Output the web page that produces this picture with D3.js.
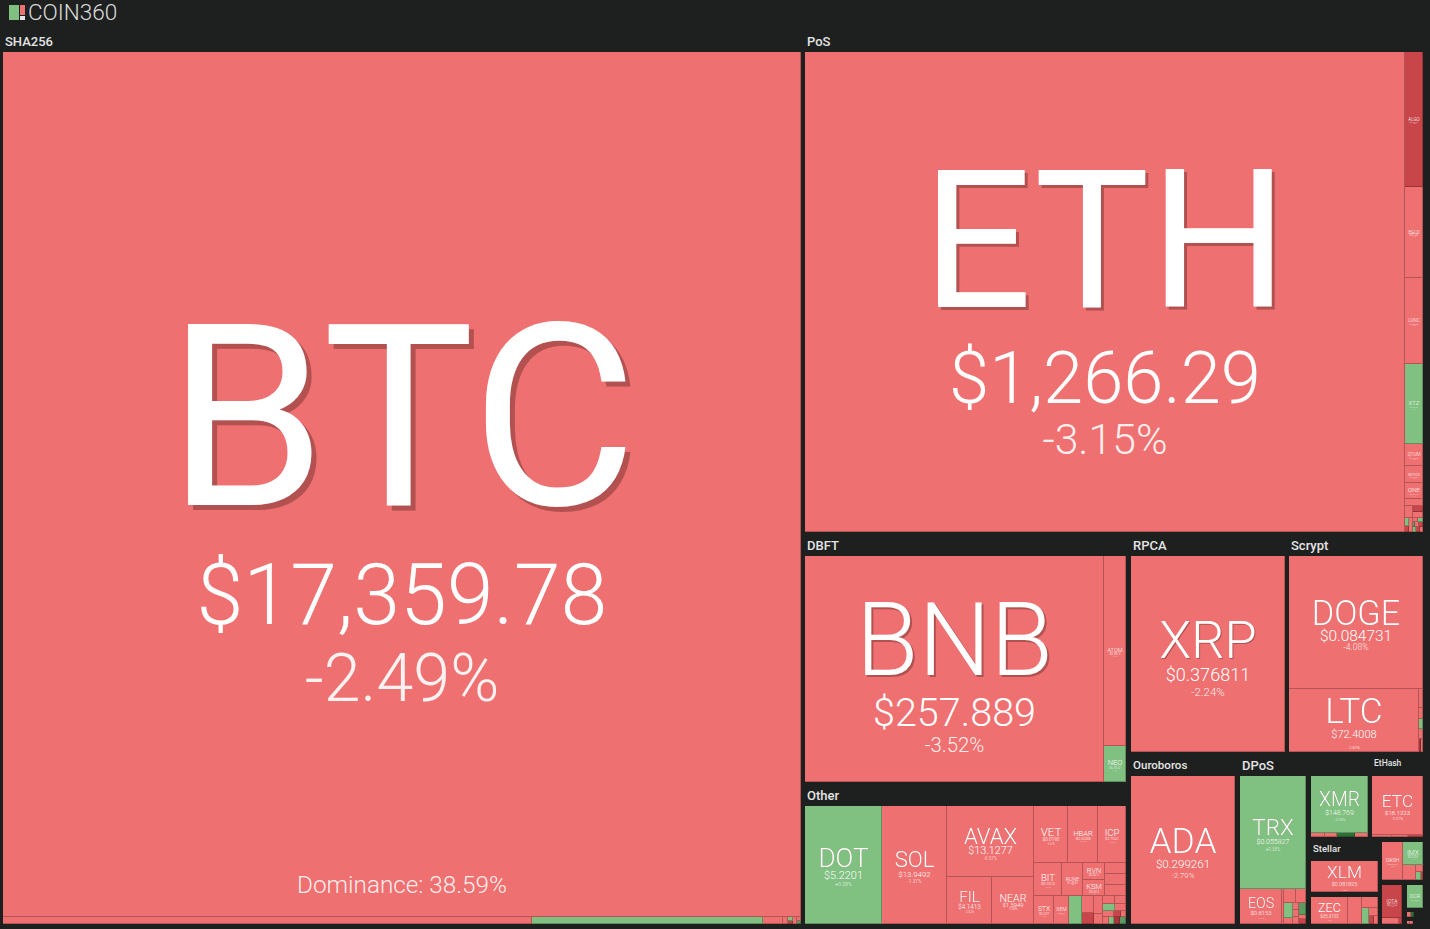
<!DOCTYPE html>
<html><head><meta charset="utf-8">
<script src="https://cdn.jsdelivr.net/npm/d3@7"></script>
<style>html,body{margin:0;background:#1e2020;overflow:hidden}svg{display:block}text{font-family:Roboto,sans-serif}</style>
</head><body><svg id="c" width="1430" height="929"></svg>
<script>
// Named coins: size (relative cap), price, 24h change
const symbols=["BTC","ETH","ALGO","EGLD","LUNC","XTZ","QTUM","WAVES","ONE","BNB","ATOM","NEO","DOT","SOL","AVAX","FIL","NEAR","VET","HBAR","ICP","BIT","RUNE","RVN","KSM","STX","XEM","XRP","DOGE","LTC","ADA","TRX","EOS","XMR","ETC","XLM","ZEC","DASH","IMX","IOTA","DCR"];
const caps=[689400,287700,2440,1640,1550,1445,398,307,289,67300,4180,792,9086,7670,6106,2068,1974,1950,1680,1620,940,680,380,358,575,410,30030,17688,8190,15392,7458,1470,3249,3009,2077,999,798,460,660,368];
const prices=["17,359.78","1,266.29","0.2237","41.27","0.000186","0.9517","2.1503","1.5521","0.0147","257.889","9.3912","6.4312","5.2201","13.9492","13.1277","4.1413","1.5949","0.0190","0.0398","3.7021","0.3012","1.2044","0.0211","23.812","0.2107","0.0273","0.376811","0.084731","72.4008","0.299261","0.055827","0.8153","148.769","18.1223","0.081825","35.3102","38.1204","0.3104","0.1712","15.5120"];
const changes=[-2.49,-3.15,-7.82,-3.41,-3.02,1.12,-3.55,-2.91,-3.67,-3.52,-3.11,0.42,0.28,-1.37,-0.57,-2.92,-0.58,-2.64,-1.83,-2.21,-3.04,-2.38,-2.77,-3.12,-1.96,-2.43,-2.24,-4.08,-3.84,-2.79,0.33,-3.31,0.09,-0.57,-1.88,-2.03,-3.22,1.41,-6.33,0.84];
// Coins too small to carry a readable label
const minorIds=["s1","s2","s3","s4","s5","s6","s7","s8","s9","s10","p1","p2","p3","p4","p5","p6","p7","p8","p9","p10","p11","p12","p13","p14","p15","p16","o1","o2","o3","o4","o5","o6","o7","o8","o9","o10","o11","o12","o13","o14","o15","o16","o17","o18","o19","o20","l1","l2","l3","l4","l5","l6","d1","d2","d3","d4","d5","d6","d7","d8","d9","d10","d11","d12","d13","x1","x2","x3","x4","e1","e2","e3","z1","z2","z3","z4","z5","z6","a1","a2","a3","a4","a5","i1","i2","t1","t2","t3","t4"];
const minorCaps=[3703,1617,140,35,28,20,15,16,12,126,91,63,63,30,23,53,23,19,14,19,19,19,19,14,15,15,225,225,225,380,204,132,162,90,96,88,84,77,66,42,30,42,35,42,42,16,76,44,40,40,26,26,70,168,140,135,54,42,42,42,84,28,35,16,16,56,48,72,52,40,32,30,378,176,112,72,40,32,195,49,40,16,16,102,18,20,15,9,9];
const minorChanges=[-3.1,1.6,-2.2,-2.8,-3.3,2.4,-9.2,-2.9,7.5,-2.6,-3.4,-8.1,-4.4,2.7,-7.6,-3.0,-2.5,1.8,6.2,-3.9,-7.0,2.2,-8.4,-3.0,3.1,-2.7,-3.3,-2.9,-2.4,1.4,-3.6,-8.6,-2.8,-2.5,-3.0,-2.7,1.7,-2.2,-3.1,-7.4,-2.6,-3.3,2.3,-12.5,6.8,-9.0,-2.9,-3.2,1.5,-2.8,-11.0,-3.4,-2.7,-3.2,-2.5,1.9,-3.0,-2.6,-3.4,-2.9,6.1,-3.1,-7.7,-2.4,-3.3,-3.0,-2.8,12.4,-3.5,-2.7,-3.1,-9.5,-2.9,-2.6,1.3,-3.0,-8.8,-2.5,-3.4,-2.8,1.6,-9.1,-2.3,-3.0,-8.2,-3.1,11.6,-3.2,-2.7];
// Branch order of the tree: direction of the cut and its children
const splits=[
["root","h","SHA256 right"],
["SHA256","v","BTC shaStrip"],
["shaStrip","h","s1 s2 s3 s4 shaCol1 s5 shaCol2"],
["shaCol1","v","s6 s7"],["shaCol2","v","s8 s9"],
["right","v","PoS lower"],
["PoS","h","ETH posCol"],
["posCol","v","ALGO EGLD LUNC XTZ QTUM WAVES ONE s10 posTail"],
["posTail","v","posR1 posR2"],
["posR1","h","p1 posB"],["posB","v","p2 p3"],
["posR2","h","posC1 p6 posC3"],["posC1","v","p4 p5"],
["posC3","v","posD1 posD2 posD3"],["posD1","h","p7 p8"],["posD2","h","p9 p10 p11"],["posD3","h","p12 p13 p14"],
["lower","h","lowerLeft lowerRight"],
["lowerLeft","v","DBFT Other"],
["DBFT","h","BNB dbftCol"],["dbftCol","v","ATOM NEO"],
["Other","h","DOT SOL otherA otherB"],
["otherA","v","AVAX otherA2"],["otherA2","h","FIL NEAR"],
["otherB","v","obR1 obR2 obR3"],
["obR1","h","VET HBAR ICP"],
["obR2","h","BIT RUNE obK obC"],["obK","v","RVN KSM"],["obC","v","o1 o2 o3"],
["obR3","h","STX XEM o4 ob3a ob3b ob3c"],["ob3a","v","o5 o6"],["ob3b","v","o7 o8"],
["ob3c","v","ob3r1 ob3r2 ob3r3 ob3r4"],["ob3r1","h","o9 o10"],["ob3r2","h","o11 o12"],["ob3r3","h","o13 o14 o15"],["ob3r4","h","o16 o17 o18 o19"],
["lowerRight","v","lrTop lrBot"],
["lrTop","h","RPCA Scrypt"],["RPCA","v","XRP"],
["Scrypt","v","DOGE ltcRow"],["ltcRow","h","LTC ltcCol"],["ltcCol","v","l1 l2 l3 l4 ltcTail"],["ltcTail","h","l5 l6"],
["lrBot","h","Ouroboros DPoS rest"],["Ouroboros","v","ADA"],
["DPoS","v","TRX dRow"],["dRow","h","EOS d1 dRight"],
["dRight","v","dTop dBot"],["dTop","h","d2 d3"],["dBot","h","dB1 dB2 dB3"],["dB1","v","d4 d5"],["dB2","v","d6 d7 d8"],["dB3","v","d9 d10 d11"],
["rest","v","restTop restBot"],["restTop","h","RandomX EtHash"],
["RandomX","v","XMR xStrip"],["xStrip","h","x1 x2 x3 x4"],
["EtHash","v","ETC eStrip"],["eStrip","h","e1 e2 e3"],
["restBot","h","restA restB"],["restA","v","Stellar zecGroup"],["Stellar","v","XLM"],
["zecGroup","h","ZEC z1 zCol"],["zCol","v","z2 zBot"],["zBot","h","z3 zBc"],["zBc","v","z4 zBd"],["zBd","h","z5 z6"],
["restB","v","dashGroup lastRow"],
["dashGroup","h","DASH dashCol"],["dashCol","v","IMX dashRow"],["dashRow","h","a1 dashC"],["dashC","v","a2 dashCr"],["dashCr","h","a3 a4"],
["lastRow","h","iotaGroup dcrCol"],
["iotaGroup","v","IOTA iStrip"],["iStrip","h","i1 i2"],
["dcrCol","v","dcrGroup tiny1 tiny2"],["dcrGroup","v","DCR"],
["tiny1","h","t1 t2"],["tiny2","h","t3 t4"]
];
// Band above a family and gap to its right neighbour
const groupPad=new Map([["SHA256",[24,4]],["PoS",[24,4]],["DBFT",[24,5]],["Other",[24,5]],["RPCA",[24,4]],["Scrypt",[24,4]],["Ouroboros",[24,5]],["DPoS",[24,5]],["RandomX",[24,4]],["EtHash",[24,4]],["Stellar",[24,4]],["zecGroup",[5,4]],["dashGroup",[5,4]],["iotaGroup",[5,5]],["dcrGroup",[5,4]],["tiny1",[4,13]],["tiny2",[4,14]]]);
const groupLabels=["SHA256","PoS","DBFT","Other","RPCA","Scrypt","Ouroboros","DPoS","EtHash","Stellar"];

const dominance="Dominance: 38.59%";
const kids=new Map(splits.map(s=>[s[0],s[2].split(" ")]));
const dirs=new Map(splits.map(s=>[s[0],s[1]]));
const capOf=new Map([...symbols.map((s,i)=>[s,caps[i]]),...minorIds.map((s,i)=>[s,minorCaps[i]])]);
const changeOf=new Map([...symbols.map((s,i)=>[s,changes[i]]),...minorIds.map((s,i)=>[s,minorChanges[i]])]);
const priceOf=new Map(symbols.map((s,i)=>[s,prices[i]]));

const root=d3.hierarchy("root",id=>kids.get(id)).sum(id=>capOf.get(id)||0);
const tile=(p,x0,y0,x1,y1)=>{
  const total=d3.sum(p.children,c=>c.value);let at=dirs.get(p.data)==="h"?x0:y0;
  for(const c of p.children){
    if(dirs.get(p.data)==="h"){c.y0=y0;c.y1=y1;c.x0=at;at+=c.value*(x1-x0)/total;c.x1=at;}
    else{c.x0=x0;c.x1=x1;c.y0=at;at+=c.value*(y1-y0)/total;c.y1=at;}
  }
};
const pad=n=>groupPad.get(n.data)||[0,0];
const treemap=d3.treemap().size([1424,896]).tile(tile).paddingTop(n=>pad(n)[0]).paddingRight(n=>pad(n)[1]);
// A family's band takes room too, so its weight is settled by repeated layout
for(let i=0;i<14;i++){
  treemap(root);
  root.eachAfter(n=>{if(!n.children)return;const [t,r]=pad(n),W=n.x1-n.x0,H=n.y1-n.y0;
    n.value=d3.sum(n.children,c=>c.value)+(W*H-(W-r)*(H-t));});
}
treemap.round(true)(root);

const colour=d3.scaleThreshold().domain([-10,-5,0,5,10]).range(["#a8383c","#c8464a","#ef7070","#80c080","#5b9a60","#2f7038"]);
const symScale=d3.scaleLinear().domain([0,100,199,266]).range([0,102,193,255]);
const symDrop=d3.scaleLinear().domain([0,100,192,254]).range([1,6,15,20]);
const priceRoom=d3.scaleLinear().domain([66,154,298,598,798]).range([.5,.55,.59,.52,.515]).clamp(true);
const priceDrop=d3.scaleLinear().domain([60,100,192,254]).range([.45,.49,.51,.49]).clamp(true);
const bigPct=d3.scaleLinear().domain([50,98,192,254]).range([11,19.5,42,66]);
const pctDrop=d3.scaleLinear().domain([52,100,192,254]).range([.8,.815,.835,.85]).clamp(true);
const symFit=(w,h,n)=>Math.min(symScale(w/n),h*0.56);

const svg=d3.select("#c");
const g=svg.append("g").attr("transform","translate(3,28)");
const leaves=g.selectAll("g.leaf").data(root.leaves()).join("g").attr("class","leaf");
leaves.append("rect").attr("x",d=>d.x0).attr("y",d=>d.y0).attr("width",d=>Math.max(0,d.x1-d.x0)).attr("height",d=>Math.max(0,d.y1-d.y0))
  .attr("fill",d=>d3.color(colour(changeOf.get(d.data))).darker(0.8));
leaves.append("rect").attr("x",d=>d.x0).attr("y",d=>d.y0).attr("width",d=>Math.max(0,d.x1-d.x0-1)).attr("height",d=>Math.max(0,d.y1-d.y0-1))
  .attr("fill",d=>colour(changeOf.get(d.data)));

// Font size from the room a text may take in its cell
const fitTo=(sel,width)=>{sel.attr("font-size",100);const em=sel.node().getComputedTextLength()/100;return width/em;};
const named=root.leaves().filter(d=>priceOf.has(d.data));
for(const d of named){
  const w=d.x1-d.x0,h=d.y1-d.y0,cx=(d.x0+d.x1)/2,cy=(d.y0+d.y1)/2,sym=d.data;
  const s=symFit(w,h,sym.length);
  const ch=changeOf.get(sym);
  const t=g.append("g").attr("text-anchor","middle").attr("fill","#fff");
  const o=s*0.02;
  t.append("text").attr("x",cx).attr("y",cy+symDrop(s)).attr("font-size",s).attr("font-weight",s>120?400:300)
    .style("filter",s>14?`drop-shadow(${o}px ${o}px 0 rgba(120,50,50,.5))`:null).text(sym);
  const pr=t.append("text").attr("x",cx).attr("font-weight",300).text("$"+priceOf.get(sym));
  const ps=Math.min(fitTo(pr,w*priceRoom(w)),h*0.175);
  pr.attr("font-size",ps).attr("y",cy+s*priceDrop(s)+ps*0.17+Math.max(0,(30-s)*.05));
  const pc=t.append("text").attr("x",cx).attr("y",cy+s*pctDrop(s)+Math.max(0,(30-s)*.05)).attr("font-weight",300).attr("fill-opacity",.9).text((ch>0?"+":"")+ch.toFixed(2)+"%");
  const fit=fitTo(pc,w*0.22);
  pc.attr("font-size",s>=50?bigPct(s):Math.min(fit,h*0.065));
}
const btc=root.leaves().find(d=>d.data==="BTC");
const dm=g.append("text").attr("x",(btc.x0+btc.x1)/2).attr("y",btc.y1-24).attr("text-anchor","middle").attr("fill","#fff").attr("fill-opacity",.9).attr("font-weight",300).text(dominance);
dm.attr("font-size",fitTo(dm,210));

root.descendants().filter(n=>groupLabels.includes(n.data)).forEach(n=>{
  const w=n.x1-n.x0-pad(n)[1],fs=Math.min(13,w/n.data.length);
  g.append("text").attr("x",n.x0+2).attr("y",n.y0+5+fs).attr("fill","#e4e4e4").attr("font-weight",500)
   .attr("font-size",fs).text(n.data);
});

// Brand mark
const head=svg.append("g");
head.append("rect").attr("x",9).attr("y",5).attr("width",10).attr("height",15).attr("fill","#80c080");
head.append("rect").attr("x",20).attr("y",5).attr("width",5).attr("height",10).attr("fill","#ef7070");
head.append("rect").attr("x",20).attr("y",16).attr("width",5).attr("height",4).attr("fill","#e6e6e6");
head.append("text").attr("x",28).attr("y",19.5).attr("font-size",22.5).attr("font-weight",300).attr("fill","#dcdcdc").text("COIN360");
</script></body></html>
